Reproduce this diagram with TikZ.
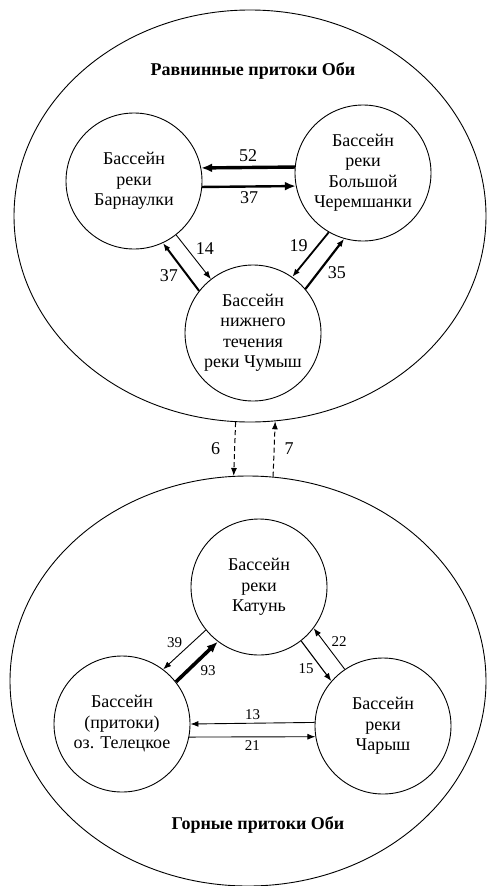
\documentclass[tikz,border=0pt]{standalone}
\usepackage{fontspec}
\setmainfont{Liberation Serif}
\usetikzlibrary{arrows.meta}
\usetikzlibrary{shapes.geometric}

\begin{document}
\begin{tikzpicture}[
    x=1pt, y=-1pt,
    region/.style={draw,ellipse,inner sep=0pt,line width=0.9pt},
    basin/.style={draw,circle,minimum size=136pt,inner sep=0pt,line width=0.9pt,
                  align=center,font=\fontsize{18}{20.5}\selectfont},
    title/.style={font=\bfseries\fontsize{18}{20}\selectfont},
    flow/.style={-{Latex[length=8pt,width=6pt]},line width=1pt},
    heavy/.style={-{Latex[length=11pt,width=9pt]}},
    bignum/.style={font=\fontsize{18}{18}\selectfont,inner sep=2pt},
    smallnum/.style={font=\fontsize{15}{15}\selectfont,inner sep=2pt},
]

\useasboundingbox (0,0) rectangle (488,886);

%----------------------------------
% Plain tributaries
%----------------------------------

\node[region,minimum width=472pt,minimum height=412pt] (plain) at (250,216) {};
\node[title] (plainTitle) at (253,71) {Равнинные притоки Оби};

\node[basin] (barn) at (134,181) {Бассейн\\реки\\Барнаулки};
\node[basin] (cher) at (363,173) {Бассейн\\реки\\Большой\\Черемшанки};
\node[basin] (chum) at (253,333) {Бассейн\\нижнего\\течения\\реки Чумыш};

\draw[flow,heavy,line width=3.4pt]
    (cher.175.8) -- node[bignum,above=2pt] {52} (barn.11);
\draw[flow,heavy,line width=2.4pt]
    (barn.-5.1) -- node[bignum,below=2pt] {37} (cher.191.9);

\draw[flow,line width=0.9pt]
    (barn.-52.5) -- node[bignum,above right] {14} (chum.128);
\draw[flow,line width=2pt]
    (chum.142.5) -- node[bignum,below left] {37} (barn.-65.6);

\draw[flow,line width=1.8pt]
    (cher.-120.7) -- node[bignum,above left] {19} (chum.55.4);
\draw[flow,line width=2.2pt]
    (chum.40.9) -- node[bignum,below right] {35} (cher.-106.3);

%----------------------------------
% Mountain tributaries
%----------------------------------

\node[region,minimum width=476pt,minimum height=410pt] (mount) at (248,681) {};
\node[title] (mountTitle) at (258,825) {Горные притоки Оби};

\node[basin] (katun) at (259,587) {Бассейн\\реки\\Катунь};
\node[basin] (tel) at (122,724) {Бассейн\\(притоки)\\оз. Телецкое};
\node[basin] (char) at (383,726) {Бассейн\\реки\\Чарыш};

\draw[flow,line width=0.9pt]
    (katun.219.8) -- node[smallnum,above left] {39} (tel.53);
\draw[flow,heavy,line width=3.6pt]
    (tel.38.4) -- node[smallnum,below right] {93} (katun.233.8);

\draw[flow,line width=1.1pt]
    (katun.-52) -- node[smallnum,below left] {15} (char.139.2);
\draw[flow,line width=0.9pt]
    (char.124.6) -- node[smallnum,above right] {22} (katun.-37.5);

\draw[flow,line width=0.9pt]
    (char.177.5) -- node[smallnum,above=1pt] {13} (tel.0.8);
\draw[flow,line width=0.9pt]
    (tel.-11) -- node[smallnum,below=1pt] {21} (char.189.3);

%----------------------------------
% Exchange between the two groups
%----------------------------------

\begin{scope}[dash pattern=on 5pt off 3pt]
\draw[flow] (plain.-94.7) -- node[bignum,left=12pt] {6} (mount.94.2);
\draw[flow] (mount.83) -- node[bignum,right=8pt] {7} (plain.-83.6);
\end{scope}

\end{tikzpicture}
\end{document}
